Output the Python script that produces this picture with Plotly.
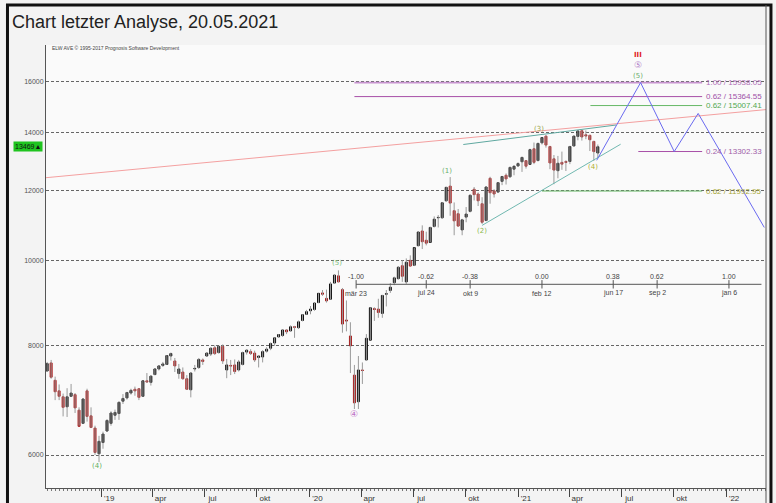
import math
import pandas as pd
import plotly.graph_objects as go

# ---------------- data (weekly candles) ----------------
week_start = "2018-09-28"
week_end = "2021-05-21"

opens = [7480, 7640, 7300, 7100, 6990, 6810, 7000, 7030, 6750, 6520, 7100, 6650, 6440, 6020,
         6200, 6390, 6520, 6660, 6690, 6910, 6970, 7060, 7130, 7140, 7000, 7290, 7260, 7410,
         7520, 7590, 7610, 7780, 7680, 7430, 7460, 7330, 7120, 7520, 7550, 7700, 7780, 7820,
         7950, 7850, 7980, 7500, 7590, 7600, 7500, 7610, 7860, 7870, 7840, 7750, 7760, 7880,
         7940, 8050, 8180, 8210, 8330, 8310, 8400, 8380, 8540, 8680,
         8760, 8790, 8950, 9180, 9050, 9030, 9420, 9600, 9260, 8550, 8200, 7400, 6900, 7500,
         7700, 8110, 8810, 8800, 8700, 9150, 9240, 9430, 9530, 9860, 9450, 10000, 9870, 10390,
         10800, 10540, 10480, 10930, 11180, 11180, 11690, 12150, 11390, 11300, 10830, 11200,
         11370, 12050, 11900, 11600, 11100, 12400, 12000, 11960, 12300, 12500, 12450, 12700,
         12810, 12950, 12990, 12860, 13400, 12990, 13610, 13850, 13480, 13050, 12650, 12930,
         12960, 12960, 13500, 13840, 14050, 13900, 13880, 13660, 13250]
highs = [7660, 7700, 7370, 7220, 7050, 7150, 7230, 7060, 6800, 6960, 7140, 6800, 6480, 6310,
         6380, 6590, 6730, 6760, 6900, 7040, 7080, 7140, 7180, 7150, 7300, 7440, 7390, 7530,
         7590, 7660, 7800, 7850, 7740, 7620, 7550, 7400, 7450, 7600, 7740, 7730, 7860, 7960,
         8000, 7990, 8020, 7720, 7700, 7710, 7700, 7870, 7920, 7920, 7890, 7800, 7900, 7960,
         8060, 8170, 8240, 8340, 8350, 8430, 8420, 8540, 8680, 8780,
         8870, 8950, 9170, 9250, 9260, 9450, 9630, 9740, 9300, 9000, 8500, 7600, 7780, 7650,
         8240, 8840, 8840, 9040, 9130, 9250, 9420, 9580, 9850, 10000, 10050, 10130, 10340, 10790,
         10960, 10780, 10920, 11220, 11260, 11650, 12120, 12440, 11640, 11440, 11150, 11500,
         11880, 12120, 11950, 11800, 12130, 12450, 12050, 12280, 12470, 12560, 12780, 12800,
         12930, 13110, 13010, 13400, 13620, 13600, 13810, 13880, 13500, 13180, 13150, 13300,
         13000, 13500, 13850, 14040, 14070, 14060, 13900, 13680, 13550]
lows = [7460, 7330, 6930, 6930, 6640, 6630, 6990, 6700, 6480, 6510, 6550, 6440, 6000, 5890,
        6100, 6380, 6480, 6580, 6580, 6860, 6940, 7030, 7010, 6930, 6990, 7250, 7200, 7400,
        7490, 7560, 7600, 7690, 7460, 7330, 7310, 7120, 6980, 7470, 7520, 7600, 7770, 7780,
        7800, 7830, 7620, 7340, 7400, 7420, 7470, 7590, 7810, 7800, 7660, 7550, 7650, 7850,
        7900, 7990, 8160, 8180, 8240, 8300, 8160, 8350, 8520, 8670,
        8680, 8760, 8940, 9110, 8950, 9020, 9400, 9440, 8270, 8300, 7440, 6770, 6770, 7230,
        7680, 8110, 8530, 8600, 8600, 8860, 9180, 9370, 9510, 9450, 9400, 9850, 9850, 10380,
        10300, 10400, 10480, 10900, 10900, 11150, 11660, 11240, 10680, 10930, 10680, 11050,
        11340, 11700, 11530, 11000, 11080, 11600, 11790, 11930, 12180, 12200, 12420, 12500,
        12780, 12610, 12720, 12850, 12870, 12970, 13550, 13440, 12700, 12210, 12400, 12680,
        12640, 12870, 13480, 13700, 13690, 13740, 13320, 12980, 13070]
closes = [7627, 7359, 7084, 7000, 6800, 6990, 7060, 6790, 6470, 6950, 6640, 6450, 6040, 6220,
          6340, 6570, 6700, 6710, 6890, 6960, 7070, 7110, 7100, 6980, 7290, 7270, 7380, 7520,
          7580, 7620, 7790, 7830, 7580, 7520, 7330, 7130, 7440, 7530, 7710, 7670, 7840, 7940,
          7830, 7980, 7680, 7600, 7580, 7470, 7660, 7850, 7900, 7830, 7700, 7780, 7870, 7920,
          8040, 8160, 8230, 8330, 8290, 8400, 8390, 8510, 8670, 8740,
          8800, 8940, 9170, 9150, 8990, 9400, 9620, 9450, 8460, 8530, 7990, 6880, 7500, 7490,
          8150, 8830, 8790, 8720, 9120, 9160, 9320, 9550, 9820, 9590, 9950, 9850, 10340, 10770,
          10500, 10460, 10900, 11140, 11190, 11630, 12110, 11620, 11090, 10940, 11120, 11290,
          11860, 11880, 11690, 11050, 12120, 11940, 11900, 12260, 12460, 12380, 12760, 12800,
          12890, 13100, 12800, 13370, 12930, 13590, 13800, 13530, 12910, 12670, 12900, 12870,
          12930, 13480, 13850, 14040, 13820, 13860, 13720, 13300, 13470]
last_price = 13469

# Y axis ticks
y_ticks = [6000, 8000, 10000, 12000, 14000, 16000]

# X axis ticks (quarters)
x_tick_dates = ["2019-01-01", "2019-04-01", "2019-07-01", "2019-10-01",
                "2020-01-01", "2020-04-01", "2020-07-01", "2020-10-01",
                "2021-01-01", "2021-04-01", "2021-07-01", "2021-10-01", "2022-01-01"]
x_tick_text = ["'19", "apr", "jul", "okt", "'20", "apr", "jul", "okt",
               "'21", "apr", "jul", "okt", "'22"]

# Elliott wave labels
wave_dates = ["2018-12-24", "2020-02-19", "2020-03-20", "2020-08-30", "2020-10-30",
              "2021-02-07", "2021-05-12", "2021-07-31", "2021-07-31", "2021-07-31"]
wave_values = [5830, 9930, 6690, 12650, 10790, 14120, 12790, 16230, 16680, 17130]
wave_texts = ["(4)", "(5)", "④", "(1)", "(2)", "(3)", "(4)", "(5)", "⑤", "<b>III</b>"]
wave_colors = ["#5fb05f", "#7cbf7c", "#c070c8", "#6aae6a", "#8cb84c", "#a0a850",
               "#b0b030", "#6aae6a", "#b080c8", "#e02020"]
wave_sizes = [7, 7, 9, 7, 7, 7, 7, 7, 9, 7]

# Trend / channel lines
red_line_dates = ["2018-09-26", "2022-03-12"]
red_line_values = [12420, 14850]
upper_channel_dates = ["2020-09-27", "2021-06-22"]
upper_channel_values = [13550, 14260]
lower_channel_dates = ["2020-10-30", "2021-06-30"]
lower_channel_values = [10960, 13560]

# Fibonacci target levels
fib_values = [15938.05, 15364.55, 15007.41, 13302.33, 11992.95]
fib_ratios = ["1.00", "0.62", "0.62", "0.24", "0.62"]
fib_start = ["2020-03-20", "2020-03-20", "2021-05-08", "2021-07-31", "2021-02-12"]
fib_end = "2021-11-20"
fib_line_colors = ["#c894d0", "#a850a8", "#66b866", "#a850a8", "#66b866"]
fib_text_colors = ["#b070b8", "#a050a8", "#50a850", "#a060a8", "#a8a838"]

# Forecast path
forecast_dates = ["2021-05-19", "2021-08-04", "2021-10-02", "2021-11-13", "2022-03-09"]
forecast_values = [13000, 15938, 13302, 14700, 10900]

# Time ratio axis
time_dates = ["2020-03-23", "2020-07-24", "2020-10-09", "2021-02-12",
              "2021-06-17", "2021-09-02", "2022-01-06"]
time_ratios = ["-1.00", "-0.62", "-0.38", "0.00", "0.38", "0.62", "1.00"]
time_labels = ["mär 23", "jul 24", "okt 9", "feb 12", "jun 17", "sep 2", "jan 6"]
time_axis_end = "2022-03-04"
time_axis_value = 9390

LG = math.log10  # annotations on a log axis are positioned in log units

# ---------------- figure ----------------
dates = pd.date_range(week_start, week_end, freq="W-FRI")

fig = go.Figure()

# wicks
wx, wy = [], []
for d, lo, hi in zip(dates, lows, highs):
    wx += [d, d, None]
    wy += [lo, hi, None]
fig.add_trace(go.Scatter(x=wx, y=wy, mode="lines",
                         line=dict(color="#9a9a9a", width=1), hoverinfo="skip"))

# bodies
body_hi = [max(o, c) for o, c in zip(opens, closes)]
body_lo = [min(o, c) for o, c in zip(opens, closes)]
fig.add_trace(go.Candlestick(
    x=dates, open=opens, high=body_hi, low=body_lo, close=closes,
    increasing=dict(line=dict(color="#111111", width=1), fillcolor="#111111"),
    decreasing=dict(line=dict(color="#a81a1a", width=1), fillcolor="#a81a1a"),
    whiskerwidth=0))

# red trend line
fig.add_trace(go.Scatter(x=red_line_dates, y=red_line_values, mode="lines",
                         line=dict(color="#f4a0a0", width=1)))
# channel lines
fig.add_trace(go.Scatter(x=upper_channel_dates, y=upper_channel_values, mode="lines",
                         line=dict(color="#5fa8a0", width=1)))
fig.add_trace(go.Scatter(x=lower_channel_dates, y=lower_channel_values, mode="lines",
                         line=dict(color="#70b8b0", width=1)))

# fib lines
for v, s, lc, tc, r in zip(fib_values, fib_start, fib_line_colors, fib_text_colors, fib_ratios):
    fig.add_trace(go.Scatter(x=[s, fib_end], y=[v, v], mode="lines",
                             line=dict(color=lc, width=1.6 if r == "1.00" else 1)))
    fig.add_annotation(x=fib_end, y=LG(v), text=f"{r} / {v:.2f}", showarrow=False,
                       xanchor="left", yanchor="middle", xshift=2,
                       font=dict(size=8, color=tc, family="Liberation Sans"))

# forecast path
fig.add_trace(go.Scatter(x=forecast_dates, y=forecast_values, mode="lines",
                         line=dict(color="#6a6af0", width=1)))

# time ratio axis
fig.add_trace(go.Scatter(x=[time_dates[0], time_axis_end], y=[time_axis_value] * 2,
                         mode="lines", line=dict(color="#555555", width=1)))
fig.add_trace(go.Scatter(x=time_dates, y=[time_axis_value] * len(time_dates), mode="markers",
                         marker=dict(symbol="line-ns", size=6,
                                     line=dict(color="#555555", width=1))))
for d, r, l in zip(time_dates, time_ratios, time_labels):
    fig.add_annotation(x=d, y=LG(time_axis_value), text=r, showarrow=False, yshift=8,
                       font=dict(size=7, color="#444", family="Liberation Sans"))
    fig.add_annotation(x=d, y=LG(time_axis_value), text=l, showarrow=False, yshift=-9,
                       font=dict(size=7, color="#444", family="Liberation Sans"))

# wave labels
for d, v, t, c, s in zip(wave_dates, wave_values, wave_texts, wave_colors, wave_sizes):
    fig.add_annotation(x=d, y=LG(v), text=t, showarrow=False,
                       font=dict(size=s, color=c, family="DejaVu Sans"))

# last price tag
fig.add_annotation(xref="paper", x=0, y=LG(last_price), text=f"{last_price}▲", showarrow=False,
                   xanchor="right", xshift=-3, bgcolor="#1fc41f", borderpad=1,
                   font=dict(size=7, color="#111", family="Liberation Sans"))

# copyright
fig.add_annotation(xref="paper", yref="paper", x=0.006, y=0.994,
                   text="ELW AVE © 1995-2017 Prognosis Software Development",
                   showarrow=False, xanchor="left", yanchor="middle",
                   font=dict(size=5, color="#444", family="Liberation Sans"))

# frame
fig.add_shape(type="rect", xref="paper", yref="paper", x0=-0.0535, x1=1.0069, y0=-0.06, y1=1.0903,
              line=dict(color="#111", width=3), fillcolor="rgba(0,0,0,0)", layer="above")
fig.add_shape(type="line", xref="paper", yref="paper", x0=1, x1=1, y0=-0.06, y1=1.0903,
              line=dict(color="#555", width=1))

fig.update_layout(
    width=776, height=503,
    margin=dict(l=46, r=10, t=45, b=15, autoexpand=False),
    paper_bgcolor="#f3f3f3",
    plot_bgcolor="#fafafa",
    showlegend=False,
    title=dict(text="Chart letzter Analyse, 20.05.2021", x=0.0155, y=0.956,
               xanchor="left", yanchor="middle",
               font=dict(size=18, color="#222", family="Liberation Sans")),
    xaxis=dict(type="date", range=["2018-09-26", "2022-03-12"], rangeslider=dict(visible=False),
               automargin=False,
               showgrid=False, zeroline=False, showline=True, linecolor="#555", linewidth=1,
               tickvals=x_tick_dates, ticktext=x_tick_text, ticks="outside", ticklen=8,
               tickcolor="#444", ticklabelshift=8, ticklabelstandoff=-6,
               tickfont=dict(size=8, color="#333", family="Liberation Sans"),
               minor=dict(ticks="outside", ticklen=2, tickcolor="#777",
                          dtick=7 * 86400000, tick0="2018-09-28")),
    yaxis=dict(type="log", range=[3.7406, 4.2453], showline=True, linecolor="#555", linewidth=1,
               automargin=False,
               tickvals=y_ticks, ticktext=[str(v) for v in y_ticks], ticks="",
               tickfont=dict(size=7, color="#555", family="Liberation Sans"),
               showgrid=True, gridcolor="#666", gridwidth=1, griddash="3px,2px", zeroline=False),
)

fig.write_html("out.html", config={"displayModeBar": False},
               post_script="document.body.style.margin='0';document.body.style.overflow='hidden';")
